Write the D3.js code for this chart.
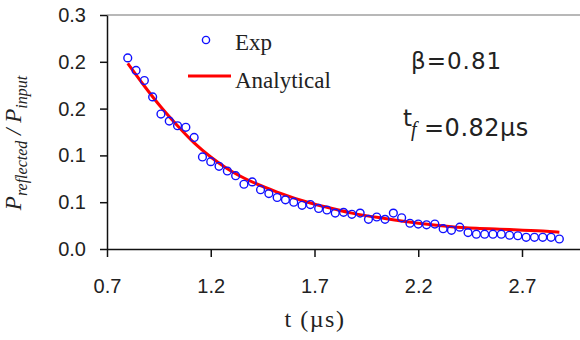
<!DOCTYPE html>
<html>
<head>
<meta charset="utf-8">
<script src="https://cdn.jsdelivr.net/npm/d3@7"></script>
<style>
  body { margin: 0; background: #fff; }
  svg { display: block; }
  .tick text { font-family: "Liberation Sans", Arial, sans-serif; font-size: 20px; fill: #222; }
</style>
</head>
<body>
<div id="chart"></div>
<script>
// experimental points, t in microseconds
let expT=[0.80,0.84,0.88,0.92,0.96,1.00,1.04,1.08,1.12,1.16,1.20,1.24,1.28,1.32,1.36,1.40,1.44,1.48,1.52,1.56,
          1.60,1.64,1.68,1.72,1.76,1.80,1.84,1.88,1.92,1.96,2.00,2.04,2.08,2.12,2.16,2.20,2.24,2.28,2.32,2.36,
          2.40,2.44,2.48,2.52,2.56,2.60,2.64,2.68,2.72,2.76,2.80,2.84,2.88];
let expP=[0.245,0.229,0.216,0.195,0.173,0.164,0.158,0.156,0.143,0.118,0.112,0.106,0.100,0.094,0.083,0.086,0.076,0.071,0.066,0.063,
          0.060,0.056,0.057,0.052,0.050,0.046,0.047,0.0445,0.046,0.038,0.041,0.038,0.046,0.040,0.033,0.032,0.031,0.032,0.026,0.024,
          0.028,0.021,0.019,0.019,0.019,0.019,0.0176,0.017,0.015,0.015,0.015,0.015,0.0128];
// analytical curve
let fitT=[0.80,0.88,0.96,1.04,1.12,1.20,1.28,1.36,1.52,1.68,1.76,1.88,2.04,2.20,2.36,2.48,2.64,2.80,2.88];
let fitP=[0.238,0.209,0.182,0.158,0.136,0.118,0.103,0.091,0.073,0.059,0.0535,0.046,0.039,0.033,0.0285,0.0265,0.025,0.023,0.0215];
let xTicks=[0.7,1.2,1.7,2.2,2.7];
let yTicks=[0,0.06,0.12,0.18,0.24,0.3];
let yTickLabels=["0.0","0.1","0.1","0.2","0.2","0.3"];

(function(){
    let W=580,H=340;
    let svg=d3.select("#chart").append("svg").attr("width",W).attr("height",H);
    let x=d3.scaleLinear().domain([0.7,3.0]).range([107,107+2.3*207.5]);
    let y=d3.scaleLinear().domain([0,0.3]).range([249,15]);

    //top border of plot area
    svg.append("line")
        .attr("x1",x(0.7)).attr("x2",W).attr("y1",y(0.3)).attr("y2",y(0.3))
        .attr("stroke","#a0a0a0").attr("stroke-width",1.5);

    let xa=svg.append("g")
        .attr("transform","translate(0,"+y(0)+")")
        .call(d3.axisBottom(x).tickValues(xTicks).tickFormat(d3.format(".1f"))
            .tickSize(8).tickSizeOuter(0).tickPadding(22));
    let ya=svg.append("g")
        .attr("transform","translate("+x(0.7)+",0)")
        .call(d3.axisLeft(y).tickValues(yTicks).tickFormat(function(d,i){return yTickLabels[i]})
            .tickSize(7).tickSizeOuter(0).tickPadding(14));
    [xa,ya].forEach(function(a){
        a.select(".domain").attr("stroke","#111").attr("stroke-width",1.5);
        a.selectAll(".tick line").attr("stroke","#111").attr("stroke-width",1.5);
    });

    let fit=fitT.map(function(t,i){return [t,fitP[i]]});
    svg.append("path")
        .datum(fit)
        .attr("fill","none")
        .attr("stroke","#ff0000")
        .attr("stroke-width",3)
        .attr("d",d3.line()
            .curve(d3.curveMonotoneX)
            .x(function(d){return x(d[0])})
            .y(function(d){return y(d[1])}));

    svg.append("g").selectAll("circle")
        .data(expT.map(function(t,i){return [t,expP[i]]}))
        .join("circle")
        .attr("cx",function(d){return x(d[0])})
        .attr("cy",function(d){return y(d[1])})
        .attr("r",3.9)
        .attr("fill","none")
        .attr("stroke","#1010ff")
        .attr("stroke-width",1.4);

    //legend
    let serif='"Liberation Serif","Times New Roman",serif';
    svg.append("circle").attr("cx",206).attr("cy",40).attr("r",3.6)
        .attr("fill","none").attr("stroke","#1010ff").attr("stroke-width",1.4);
    svg.append("text").attr("x",235).attr("y",50).text("Exp")
        .style("font-family",serif).style("font-size","23px").attr("fill","#222");
    svg.append("line").attr("x1",188).attr("x2",231).attr("y1",76).attr("y2",76)
        .attr("stroke","#ff0000").attr("stroke-width",3);
    svg.append("text").attr("x",235).attr("y",88).text("Analytical")
        .style("font-family",serif).style("font-size","23px").attr("fill","#222");

    //parameters
    let sans='"DejaVu Sans",sans-serif';
    svg.append("text").attr("x",411).attr("y",69).text("β=0.81")
        .style("font-family",sans).style("font-size","23px").style("letter-spacing","1px").attr("fill","#222");
    svg.append("text").attr("x",403).attr("y",126).text("t")
        .style("font-family",sans).style("font-size","23px").attr("fill","#222");
    svg.append("text").attr("x",411).attr("y",136).text("f")
        .style("font-family",serif).style("font-style","italic").style("font-size","20px").attr("fill","#222");
    svg.append("text").attr("x",424).attr("y",136).text("=0.82µs")
        .style("font-family",sans).style("font-size","24px").style("letter-spacing","0.5px").attr("fill","#222");

    //axis titles
    svg.append("text").attr("x",315).attr("y",327).attr("text-anchor","middle").text("t (µs)")
        .style("font-family",serif).style("font-size","24px").style("letter-spacing","1.5px").attr("fill","#222");
    let yl=svg.append("text")
        .attr("transform","translate(21,143) rotate(-90)")
        .attr("text-anchor","middle")
        .style("font-family",serif).style("font-style","italic").style("font-size","23px").attr("fill","#222");
    yl.append("tspan").text("P");
    yl.append("tspan").attr("dy",6).style("font-size","16px").text("reflected");
    yl.append("tspan").attr("dy",-6).text(" / P");
    yl.append("tspan").attr("dy",6).style("font-size","16px").text("input");
})();
</script>
</body>
</html>
